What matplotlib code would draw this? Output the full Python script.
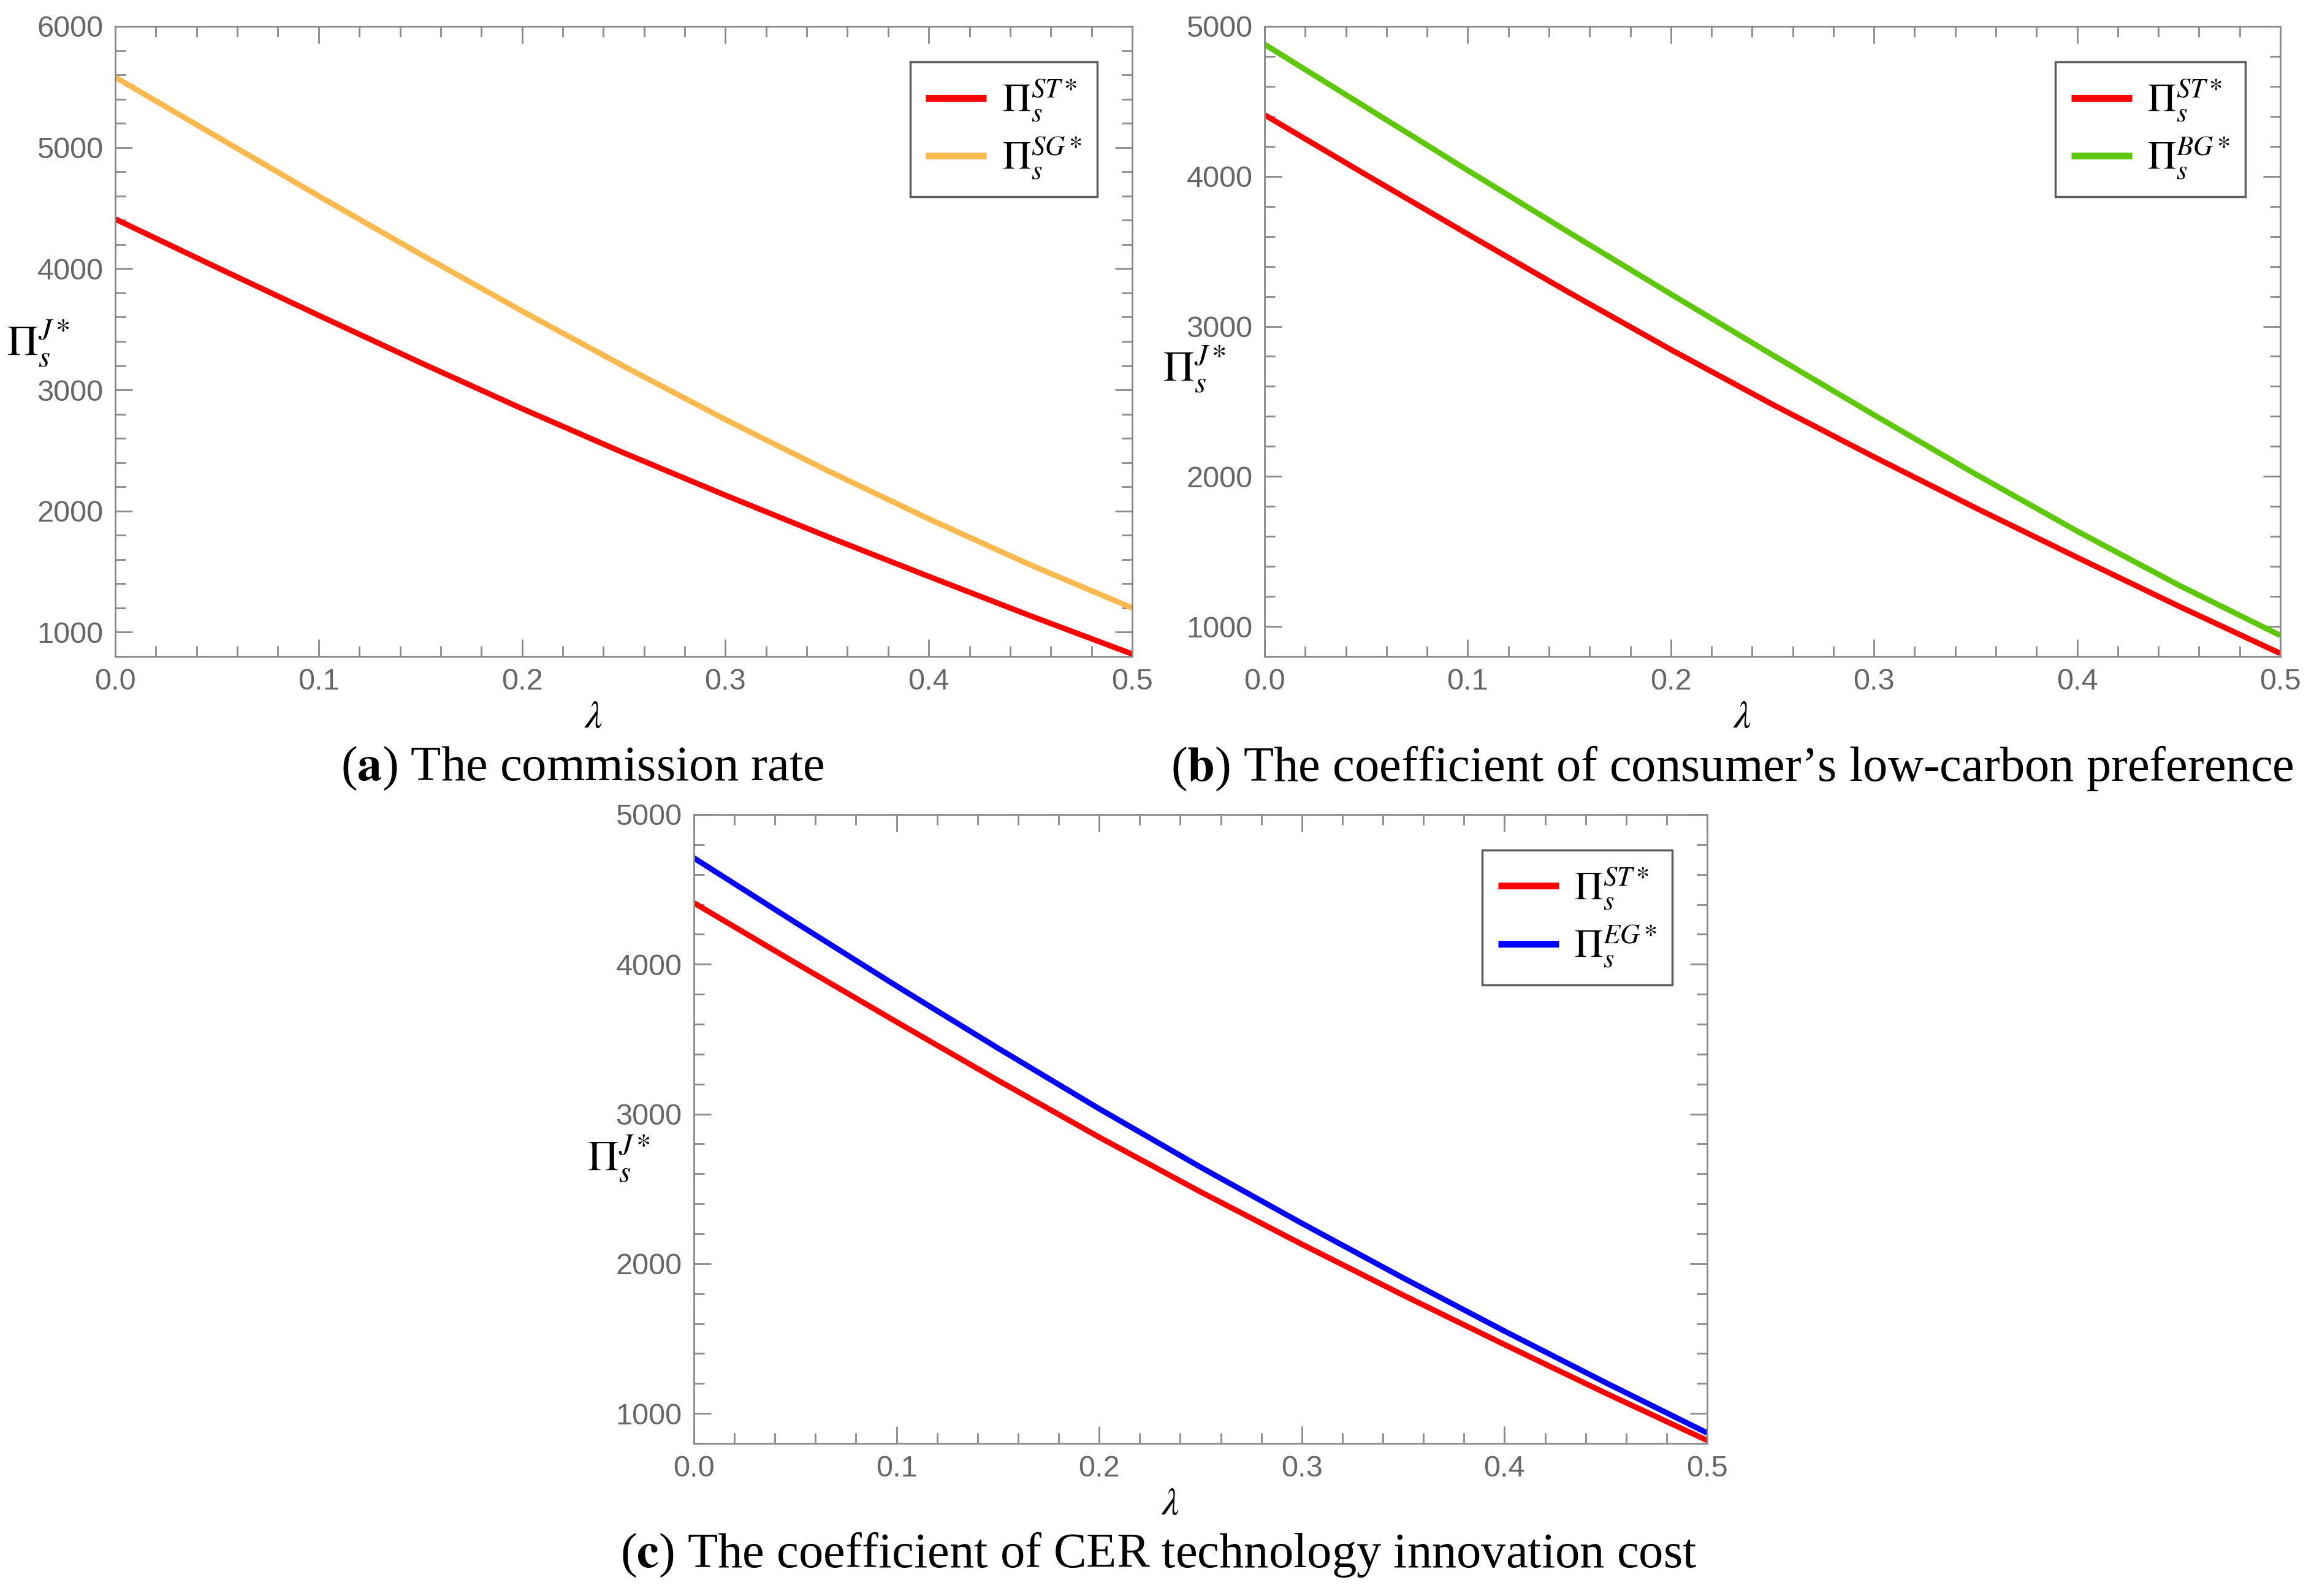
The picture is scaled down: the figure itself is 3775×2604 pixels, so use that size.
import numpy as np
import matplotlib
matplotlib.use("Agg")
import matplotlib.pyplot as plt
from matplotlib.ticker import MultipleLocator

plt.rcParams['mathtext.fontset'] = 'stix'

lam = [0.0, 0.05, 0.1, 0.15, 0.2, 0.25, 0.3, 0.35, 0.4, 0.45, 0.5]
st = [4410, 4010, 3615, 3225, 2845, 2480, 2130, 1790, 1460, 1135, 820]
sg = [5580, 5090, 4600, 4120, 3650, 3195, 2755, 2335, 1935, 1555, 1200]
bg = [4880, 4460, 4040, 3625, 3215, 2810, 2410, 2015, 1635, 1275, 940]
eg = [4710, 4280, 3855, 3440, 3035, 2645, 2270, 1905, 1550, 1205, 870]

W, H = 3775, 2604
fig = plt.figure(figsize=(W / 100, H / 100), dpi=100)

panels = [
    # rect (pixels: left, top, right, bottom), other series, color, sup, ylim, ylabel pos, caption
    ((188, 43, 1847, 1071), sg, '#FDB94E', 'SG', (800, 6000), 6000, (62, 560),
     ('a', 'The commission rate', 950, 1254)),
    ((2063, 43, 3720, 1071), bg, '#5DC808', 'BG', (800, 5000), 5000, (1948, 602),
     ('b', 'The coefficient of consumer\u2019s low-carbon preference', 2826, 1254)),
    ((1132, 1329, 2785, 2355), eg, '#0000FF', 'EG', (800, 5000), 5000, (1009, 1890),
     ('c', 'The coefficient of CER technology innovation cost', 1890, 2537)),
]

for rect, other, col, sup, ylim, ymax, ylpos, cap in panels:
    l, t, r, b = rect
    ax = fig.add_axes([l / W, 1 - b / H, (r - l) / W, (b - t) / H])
    ax.plot(lam, st, color='#FF0000', lw=6.5, solid_capstyle='butt',
            label=r'$\Pi_s^{ST*}$')
    ax.plot(lam, other, color=col, lw=6.5, solid_capstyle='butt',
            label=r'$\Pi_s^{' + sup + '*}$')
    ax.set_xlim(0, 0.5)
    ax.set_ylim(*ylim)
    ax.set_xticks(np.arange(0, 0.51, 0.1))
    ax.set_yticks(np.arange(1000, ymax + 1, 1000))
    ax.xaxis.set_minor_locator(MultipleLocator(0.02))
    ax.yaxis.set_minor_locator(MultipleLocator(200))
    ax.tick_params(which='both', direction='in', top=True, right=True,
                   color='#8a8a8a', width=2, labelsize=35, labelcolor='#666666',
                   pad=14)
    ax.tick_params(which='major', length=20)
    ax.tick_params(which='minor', length=12)
    for lbl in ax.get_xticklabels() + ax.get_yticklabels():
        lbl.set_fontfamily('Liberation Sans')
    for s in ax.spines.values():
        s.set_color('#8a8a8a')
        s.set_linewidth(2)
    ax.set_xlabel(r'$\lambda$', fontsize=46)
    ax.xaxis.set_label_coords(0.47, -0.065)
    leg = ax.legend(loc='upper right', fontsize=46, frameon=True, fancybox=False,
                    edgecolor='#333333', handlelength=1.55, borderpad=0.4,
                    labelspacing=0.3, handletextpad=0.4,
                    bbox_to_anchor=(0.985, 0.975))
    leg.get_frame().set_linewidth(2.5)
    for h in leg.get_lines():
        h.set_linewidth(8)
    fig.text(ylpos[0] / W, 1 - ylpos[1] / H, r'$\Pi_s^{J*}$', fontsize=50,
             ha='center', va='center')
    letter, text, cx, cy = cap
    fig.text(cx / W, 1 - cy / H,
             r'(' + r'$\mathbf{' + letter + '}$' + ') ' + text,
             fontsize=58, family='Liberation Serif', ha='center', va='center')

fig.savefig('out.png', dpi=100)
